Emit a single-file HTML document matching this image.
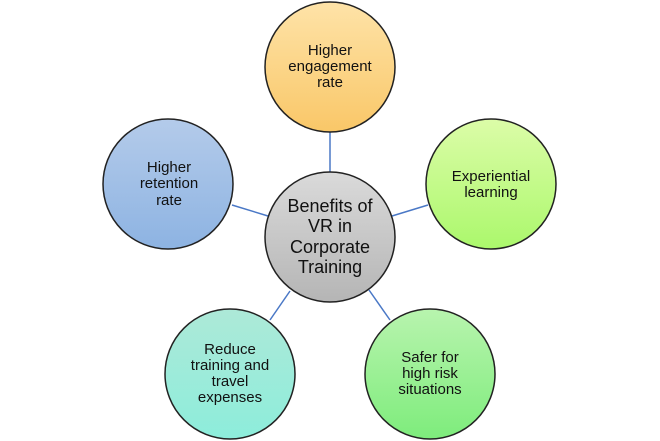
<!DOCTYPE html>
<html><head><meta charset="utf-8"><style>
html,body{margin:0;padding:0;background:#fff;width:660px;height:441px;overflow:hidden}
</style></head><body>
<svg width="660" height="441" xmlns="http://www.w3.org/2000/svg" font-family="Liberation Sans, sans-serif" text-anchor="middle" fill="#111">
<defs>
<linearGradient id="o" x1="0" y1="0" x2="0" y2="1"><stop offset="0" stop-color="#fee3a8"/><stop offset="1" stop-color="#f9c768"/></linearGradient>
<linearGradient id="b" x1="0" y1="0" x2="0" y2="1"><stop offset="0" stop-color="#b4cbea"/><stop offset="1" stop-color="#8db3e2"/></linearGradient>
<linearGradient id="g" x1="0" y1="0" x2="0" y2="1"><stop offset="0" stop-color="#dcfca8"/><stop offset="1" stop-color="#abf86c"/></linearGradient>
<linearGradient id="t" x1="0" y1="0" x2="0" y2="1"><stop offset="0" stop-color="#ade9d8"/><stop offset="1" stop-color="#8deddb"/></linearGradient>
<linearGradient id="l" x1="0" y1="0" x2="0" y2="1"><stop offset="0" stop-color="#b8f4ae"/><stop offset="1" stop-color="#7eec7c"/></linearGradient>
<linearGradient id="c" x1="0" y1="0" x2="0" y2="1"><stop offset="0" stop-color="#dadada"/><stop offset="1" stop-color="#b5b5b5"/></linearGradient>
</defs>
<g stroke="#4a78c6" stroke-width="1.5">
<line x1="330" y1="132" x2="330" y2="172"/>
<line x1="232" y1="205" x2="268" y2="216"/>
<line x1="392" y1="216" x2="428" y2="205"/>
<line x1="290" y1="291" x2="270" y2="320"/>
<line x1="369" y1="290" x2="390" y2="320"/>
</g>
<g stroke="#222" stroke-width="1.5">
<circle cx="330" cy="67" r="65" fill="url(#o)"/>
<circle cx="168" cy="184" r="65" fill="url(#b)"/>
<circle cx="491" cy="184" r="65" fill="url(#g)"/>
<circle cx="230" cy="374" r="65" fill="url(#t)"/>
<circle cx="430" cy="374" r="65" fill="url(#l)"/>
<circle cx="330" cy="237" r="65" fill="url(#c)"/>
</g>
<g font-size="15">
<text x="330" y="55">Higher</text><text x="330" y="71">engagement</text><text x="330" y="87">rate</text>
<text x="169" y="172">Higher</text><text x="169" y="188">retention</text><text x="169" y="205">rate</text>
<text x="491" y="181">Experiential</text><text x="491" y="197">learning</text>
<text x="230" y="354">Reduce</text><text x="230" y="370">training and</text><text x="230" y="386">travel</text><text x="230" y="402">expenses</text>
<text x="430" y="362">Safer for</text><text x="430" y="378">high risk</text><text x="430" y="394">situations</text>
</g>
<g font-size="18">
<text x="330" y="212">Benefits of</text><text x="330" y="232">VR in</text><text x="330" y="253">Corporate</text><text x="330" y="273">Training</text>
</g>
</svg>
</body></html>
